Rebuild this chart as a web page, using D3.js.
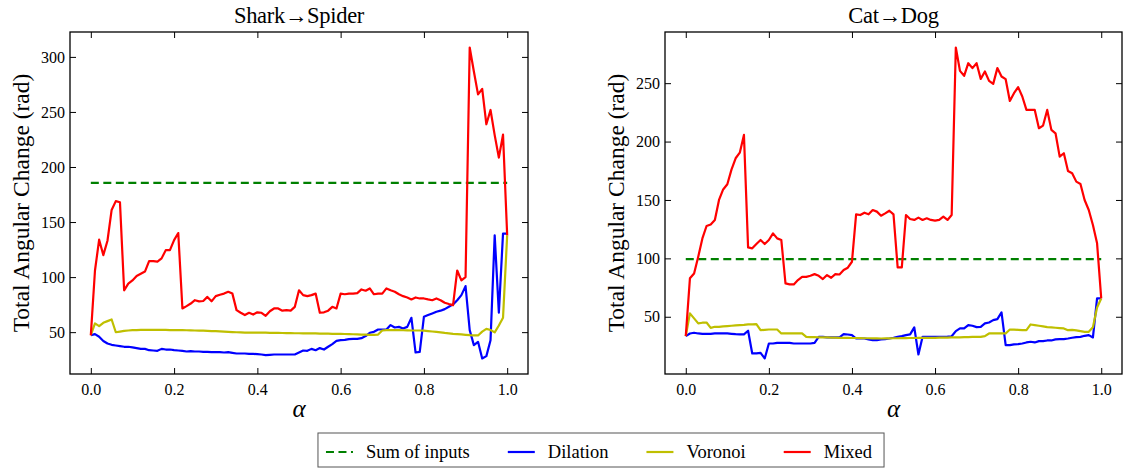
<!DOCTYPE html>
<html><head><meta charset="utf-8">
<script src="https://cdn.jsdelivr.net/npm/d3@7"></script>
<style>
body{margin:0;background:#fff}
svg{display:block}
text{font-family:"Liberation Serif","Times New Roman",serif;fill:#000}
</style>
</head><body>
<svg id="c" width="1123" height="468"></svg>
<script>
const alpha = [0,0.01,0.02,0.03,0.04,0.05,0.06,0.07,0.08,0.09,0.1,0.11,0.12,0.13,0.14,0.15,0.16,0.17,0.18,0.19,0.2,0.21,0.22,0.23,0.24,0.25,0.26,0.27,0.28,0.29,0.3,0.31,0.32,0.33,0.34,0.35,0.36,0.37,0.38,0.39,0.4,0.41,0.42,0.43,0.44,0.45,0.46,0.47,0.48,0.49,0.5,0.51,0.52,0.53,0.54,0.55,0.56,0.57,0.58,0.59,0.6,0.61,0.62,0.63,0.64,0.65,0.66,0.67,0.68,0.69,0.7,0.71,0.72,0.73,0.74,0.75,0.76,0.77,0.78,0.79,0.8,0.81,0.82,0.83,0.84,0.85,0.86,0.87,0.88,0.89,0.9,0.91,0.92,0.93,0.94,0.95,0.96,0.97,0.98,0.99,1.0];

const sharkMixed = [47,106,134,120,133,161,169,168,88,94,97,101,103,105,114.5,114.5,114,117,124.5,124.5,133.6,140,71.5,73.6,76,79,78,78.3,82,78,82.7,84,85,86.7,85,70,67.6,65.5,67.6,66,68,67.6,64.8,69,71.5,71.5,69.5,70,69.5,73,88,83.6,82.7,83.6,85,67.6,68,69.5,73,71.5,85,84.4,85,85,85.5,88.8,87.6,89.7,84.4,85,85,89.7,88,86.7,84.4,82.7,81.5,79.7,81.5,80.6,80.6,79.7,79,80.6,79,76.7,75.5,74.5,106,97,100,308.5,286.7,266,271,238.8,251.8,229,208.5,229.4,138];
const sharkDilation = [47.3,48.2,45.8,42,39.7,38.5,37.9,37.3,36.7,36.7,36.1,35.5,34.8,34.8,33.6,33.3,33,34.8,34.2,34.2,33.6,33.3,33,32.4,32.7,32.4,32.4,32.1,32.1,31.8,31.8,31.8,31.5,31.8,31.2,30.6,30.6,30.6,30.3,30.3,30,29.7,29.1,29.4,29.7,29.7,29.7,29.7,29.7,29.7,31.5,33.3,33,34.8,33.6,35.5,34.2,36.7,39.1,42,42.7,43,43.6,43.9,43.9,44.5,46.4,49.4,50.3,52.4,52.4,52.4,56.4,54.2,54.8,53.3,54.8,63,31.5,32.1,63.9,65.5,67,68.5,69.5,70.9,73,75.2,79,83.6,91.8,51.8,38.2,41.2,26.1,28.2,42.7,138,67.6,139.5,139.5];
const sharkVoronoi = [47.3,57.9,55.5,58.5,60,61.5,49.9,50.5,51.1,51.5,51.8,51.9,52,52,52,52,52,52,52,51.9,51.9,51.8,51.8,51.7,51.6,51.5,51.4,51.3,51.2,51.0,50.9,50.7,50.5,50.3,50.1,49.9,49.8,49.6,49.6,49.6,49.6,49.5,49.5,49.4,49.3,49.3,49.2,49.1,49.1,49.0,49.0,48.9,48.9,48.8,48.8,48.7,48.6,48.6,48.5,48.5,48.4,48.3,48.2,48.1,48.0,47.8,47.7,47.6,47.6,47.8,51.5,51.8,51.8,51.8,51.8,51.7,51.6,51.5,51.5,51.5,51.3,51.0,50.6,50.2,49.8,49.3,48.9,48.5,48.2,47.9,47.6,47.3,47.1,47.0,50.5,53,52,49.8,56,63,138];
const sharkSum = 185.5;

const catMixed = [33.4,82.9,87.1,101.4,117.1,127.7,129,132.8,150,159,163.4,176,185.7,190.5,205.7,109.4,108.6,112.3,115.7,112.3,115.7,121.4,117.1,115.7,78.6,77.7,77.7,81.4,84.2,84.2,85.1,86.5,85.1,82.3,85.7,83.4,86.5,86.2,90,92,97.1,137.7,137.1,139.1,137.7,141.4,140,136.5,138.5,140.8,137.7,92.3,92.3,137.1,133.7,132.9,134.9,132.9,134.3,132.9,132.3,132.9,135.7,132.9,137.1,280.5,260.5,256.3,267.1,262.9,267.1,253.7,260,252,249.4,262.9,255.7,253.4,234.8,241.4,246.6,238.6,227.1,227.1,227.1,211.4,213.7,227.1,210,207.1,187.1,190,174.8,172.9,165.7,163.7,150,141.4,128.5,112.9,65.7];
const catDilation = [33.4,35.7,36.3,35.7,35.4,35.4,35.4,35.7,35.7,35.7,35.7,35.4,35.1,34.9,34.9,38,18.6,18.6,19.1,14.3,27.1,27.1,27.7,27.7,27.7,27.7,27.1,27.1,27.1,27.1,27.1,27.7,32.8,32.8,32.3,32.3,32.3,32.3,35.1,34.8,34.3,31.4,31.4,31.4,30.6,30,30,30.6,30.9,31.4,32,32.8,33.4,34.3,34.9,40.9,17.7,32.8,32.8,32.8,32.8,32.8,32.8,33,33.3,37.7,40,40,42.9,42.3,41.1,41.4,44.3,45.1,47.1,48,53.7,25.7,25.7,26.3,26.6,27.1,28,28.6,28,29.1,29.1,29.7,29.7,30.6,30.9,30.9,31.4,32,32.6,32.8,33.7,34.3,32.3,65.7,65.7];
const catVoronoi = [33.4,52.9,48.6,44.3,44.9,45.1,40.5,41.4,41.4,41.7,42,42.3,42.6,42.9,43.1,43.4,43.4,43.7,38.5,38.8,39.1,39.1,39.1,35.7,35.7,35.7,35.7,35.7,35.7,32.8,32.6,32.5,32.4,32.3,32.3,32.2,32.1,32,32,31.9,31.8,31.8,31.7,31.6,31.6,31.5,31.5,31.4,31.5,31.5,31.6,31.6,31.7,31.7,31.8,31.8,31.9,31.9,32,32,32,32.1,32.1,32.2,32.3,32.3,32.4,32.5,32.6,32.7,32.8,32.8,33.4,35.7,35.7,35.7,35.7,35.7,39.1,39.0,38.8,38.6,38.5,43.4,42.9,42.3,41.7,41.1,40.9,40.6,40.3,40,38.5,38.8,38.3,37.7,37.1,37.1,41,58,65.7];
const catSum = 99.3;

const panelTitles = ["Shark\u2192Spider", "Cat\u2192Dog"];
const xTicks = [0, 0.2, 0.4, 0.6, 0.8, 1.0];
const sharkYTicks = [50, 100, 150, 200, 250, 300];
const catYTicks = [50, 100, 150, 200, 250];
const seriesNames = ["Sum of inputs", "Dilation", "Voronoi", "Mixed"];
const seriesColors = ["#008000", "#0000ff", "#bfbf00", "#ff0000"];

const panels = [
  {title: panelTitles[0], left: 70, right: 528, sum: sharkSum, dil: sharkDilation, vor: sharkVoronoi, mix: sharkMixed, yTicks: sharkYTicks},
  {title: panelTitles[1], left: 665, right: 1122, sum: catSum, dil: catDilation, vor: catVoronoi, mix: catMixed, yTicks: catYTicks}
];
const plotTop = 32, plotBottom = 374;
const svg = d3.select("#c");
const LW = 2.2;
const SERIF = '"Liberation Serif", "Times New Roman", serif';

panels.forEach(p => {
  const x = d3.scaleLinear().domain([-0.05, 1.05]).range([p.left, p.right]);
  const all = p.dil.concat(p.vor, p.mix, [p.sum]);
  const mn = d3.min(all), mx = d3.max(all), m = (mx - mn) * 0.05;
  const y = d3.scaleLinear().domain([mn - m, mx + m]).range([plotBottom, plotTop]);
  const g = svg.append("g");
  const line = d3.line().x((d, i) => x(alpha[i])).y(d => y(d));

  g.append("path").datum([p.sum, p.sum])
    .attr("d", d3.line().x((d, i) => x(i === 0 ? alpha[0] : alpha[alpha.length - 1])).y(d => y(d)))
    .attr("fill", "none").attr("stroke", seriesColors[0]).attr("stroke-width", LW)
    .attr("stroke-dasharray", "8,4.5");
  [[p.dil, 1], [p.vor, 2], [p.mix, 3]].forEach(([data, ci]) => {
    g.append("path").datum(data).attr("d", line)
      .attr("fill", "none").attr("stroke", seriesColors[ci]).attr("stroke-width", LW)
      .attr("stroke-linejoin", "round");
  });

  const ax = (axis, tr) => {
    const a = g.append("g").attr("transform", tr).call(axis);
    a.attr("font-family", SERIF).attr("font-size", 16);
    a.select(".domain").remove();
    a.selectAll("line").attr("stroke", "#000").attr("stroke-width", 1);
    a.selectAll("text").attr("font-family", SERIF).style("font-family", SERIF).style("font-size", "16px").attr("fill", "#000");
    return a;
  };
  ax(d3.axisBottom(x).tickValues(xTicks).tickFormat(d3.format(".1f")).tickSize(-6).tickPadding(10), `translate(0,${plotBottom})`);
  ax(d3.axisTop(x).tickValues(xTicks).tickFormat("").tickSize(-6), `translate(0,${plotTop})`);
  ax(d3.axisLeft(y).tickValues(p.yTicks).tickFormat(d3.format("d")).tickSize(-6).tickPadding(5), `translate(${p.left},0)`);
  ax(d3.axisRight(y).tickValues(p.yTicks).tickFormat("").tickSize(-6), `translate(${p.right},0)`);

  g.append("rect").attr("x", p.left).attr("y", plotTop).attr("width", p.right - p.left).attr("height", plotBottom - plotTop)
    .attr("fill", "none").attr("stroke", "#000").attr("stroke-width", 1.3);

  g.append("text").attr("x", (p.left + p.right) / 2).attr("y", 23).attr("text-anchor", "middle")
    .style("font-size", "22.5px").style("letter-spacing", "-0.3px").text(p.title);
  g.append("text").attr("transform", `translate(${p.left - 41},${(plotTop + plotBottom) / 2}) rotate(-90)`)
    .attr("text-anchor", "middle").style("font-size", "23.5px").text("Total Angular Change (rad)");
  g.append("text").attr("x", (p.left + p.right) / 2).attr("y", 417).attr("text-anchor", "middle")
    .style("font-size", "25px").style("font-style", "italic").text("\u03b1");
});

// legend
const lg = svg.append("g");
const box = lg.append("rect").attr("fill", "#fff").attr("stroke", "#555").attr("stroke-width", 1);
const ly = 452;
const itemGroups = [];
let cx = 0;
seriesNames.forEach((name, i) => {
  const it = lg.append("g");
  it.append("line").attr("x1", 0).attr("x2", 27).attr("y1", ly).attr("y2", ly)
    .attr("stroke", seriesColors[i]).attr("stroke-width", LW)
    .attr("stroke-dasharray", i === 0 ? "8,4.5" : null);
  const t = it.append("text").attr("x", 40).attr("y", ly + 6).style("font-size", "18.5px").text(name);
  const w = 40 + t.node().getComputedTextLength();
  itemGroups.push([it, cx]);
  cx += w + 38;
});
const totalW = cx - 38;
const bx0 = 601 - (totalW + 20) / 2;
itemGroups.forEach(([it, off]) => it.attr("transform", `translate(${bx0 + 8 + off},0)`));
box.attr("x", bx0).attr("y", 433).attr("width", totalW + 20).attr("height", 34);
</script>
</body></html>
